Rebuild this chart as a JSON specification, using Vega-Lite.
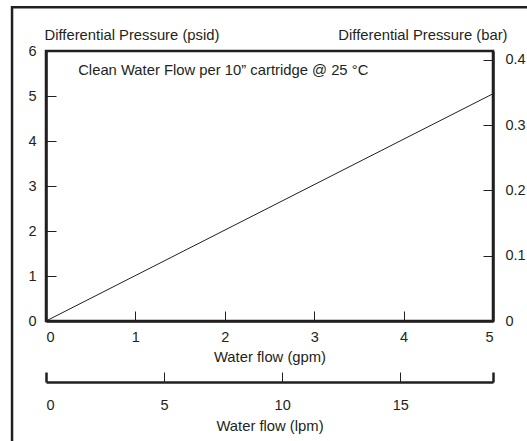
{
  "$schema": "https://vega.github.io/schema/vega-lite/v6.json",
  "width": 447,
  "height": 270,
  "autosize": {"type": "none"},
  "padding": {"left": 46, "top": 51, "right": 34, "bottom": 120},
  "background": "white",
  "config": {
    "view": {"stroke": "#231f20", "strokeWidth": 2.5},
    "font": "Liberation Sans",
    "axis": {
      "grid": false,
      "domainColor": "#231f20",
      "domainWidth": 2.5,
      "tickColor": "#231f20",
      "tickWidth": 1,
      "labelFont": "Liberation Sans",
      "labelFontSize": 14.5,
      "labelColor": "#231f20",
      "titleFont": "Liberation Sans",
      "titleFontSize": 14.8,
      "titleFontWeight": "normal",
      "titleColor": "#231f20"
    }
  },
  "datasets": {
    "flow": [
      {"gpm": 0, "psid": 0},
      {"gpm": 5, "psid": 5.05}
    ],
    "note": [
      {"label": "Clean Water Flow per 10” cartridge @ 25 °C"}
    ]
  },
  "layer": [
    {
      "layer": [
        {
          "data": {"name": "note"},
          "mark": {"type": "rect", "fill": null, "stroke": "#231f20", "strokeWidth": 2.5, "clip": false},
          "encoding": {
            "x": {"datum": -0.38, "type": "quantitative"},
            "x2": {"datum": 6.5},
            "y": {"datum": 6.97, "type": "quantitative"},
            "y2": {"datum": -3}
          }
        },
        {
          "data": {"name": "flow"},
          "mark": {"type": "line", "color": "#231f20", "strokeWidth": 1},
          "encoding": {
            "x": {
              "field": "gpm",
              "type": "quantitative",
              "scale": {"domain": [0, 5], "nice": false, "zero": false},
              "axis": {
                "orient": "bottom",
                "values": [0, 1, 2, 3, 4, 5],
                "format": "d",
                "tickSize": -10,
                "labelPadding": 19,
                "title": "Water flow (gpm)",
                "titlePadding": 6
              }
            },
            "y": {
              "field": "psid",
              "type": "quantitative",
              "scale": {"domain": [0, 6], "nice": false, "zero": false},
              "axis": {
                "orient": "left",
                "values": [0, 1, 2, 3, 4, 5, 6],
                "format": "d",
                "tickSize": -10,
                "labelPadding": 20,
                "title": "Differential Pressure (psid)",
                "titleAngle": 0,
                "titleAlign": "left",
                "titleBaseline": "middle",
                "titleX": -2,
                "titleY": -16
              }
            }
          }
        },
        {
          "data": {"name": "note"},
          "mark": {"type": "text", "align": "left", "baseline": "middle", "fontSize": 14.8, "fontWeight": "normal", "color": "#231f20", "font": "Liberation Sans"},
          "encoding": {
            "x": {"datum": 0.36, "type": "quantitative"},
            "y": {"datum": 5.56, "type": "quantitative"},
            "text": {"field": "label"}
          }
        }
      ]
    },
    {
      "data": {"name": "note"},
      "mark": {"type": "rule", "opacity": 0},
      "encoding": {
        "y": {
          "datum": 0,
          "type": "quantitative",
          "scale": {"domain": [0, 0.4137], "nice": false, "zero": false},
          "axis": {
            "orient": "right",
            "values": [0, 0.1, 0.2, 0.3, 0.4],
            "format": "~g",
            "tickSize": -10,
            "labelPadding": 22,
            "title": "Differential Pressure (bar)",
            "titleAngle": 0,
            "titleAlign": "right",
            "titleBaseline": "middle",
            "titleX": 14,
            "titleY": -16
          }
        }
      }
    },
    {
      "data": {"name": "note"},
      "mark": {"type": "rule", "opacity": 0},
      "encoding": {
        "x": {
          "datum": 0,
          "type": "quantitative",
          "scale": {"domain": [0, 18.93], "nice": false, "zero": false},
          "axis": {
            "orient": "bottom",
            "offset": 61,
            "values": [0, 5, 10, 15, 18.93],
            "labelExpr": "datum.value > 18 ? '' : datum.label",
            "format": "d",
            "tickSize": -10,
            "tickWidth": {"condition": {"test": "datum.value == 0 || datum.value > 18", "value": 2.5}, "value": 1},
            "labelPadding": 26,
            "title": "Water flow (lpm)",
            "titlePadding": 7
          }
        }
      }
    }
  ],
  "resolve": {"scale": {"x": "independent", "y": "independent"}, "axis": {"x": "independent", "y": "independent"}}
}
